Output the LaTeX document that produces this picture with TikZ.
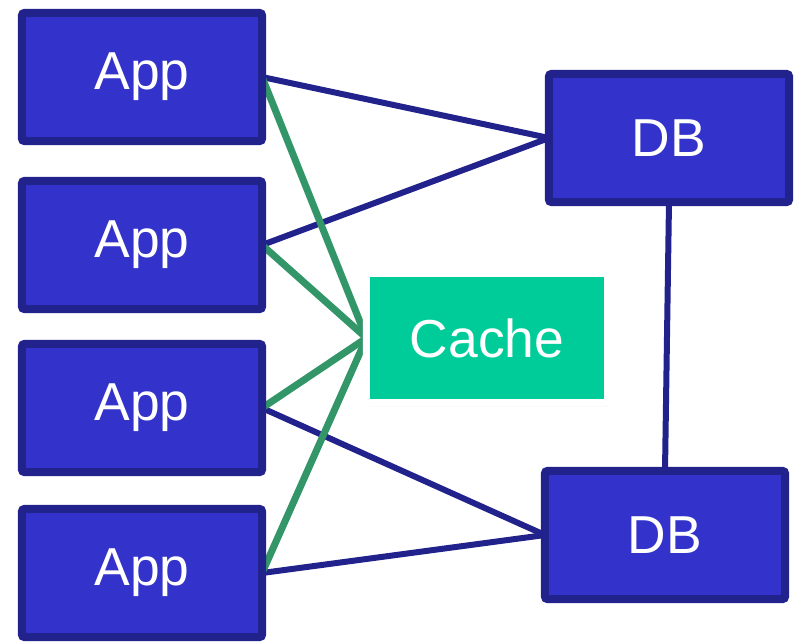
\documentclass[tikz,border=0pt]{standalone}
\usepackage{fontspec}
\setmainfont{Liberation Sans}
\usepackage{tikz}
\usetikzlibrary{shadows,backgrounds}
\definecolor{boxblue}{RGB}{51,51,204}
\definecolor{navy}{RGB}{34,34,140}
\definecolor{mint}{RGB}{0,204,153}
\definecolor{pine}{RGB}{51,150,105}

\begin{document}
\begin{tikzpicture}[x=0.025cm, y=-0.025cm,
  every node/.style={font=\fontsize{38}{40}\selectfont, text=white},
  box/.style={draw=navy, fill=boxblue, line width=0.2cm, rounded corners=0.06cm, minimum width=6cm, minimum height=3.2cm, outer sep=0pt, drop shadow={shadow xshift=0.6pt, shadow yshift=-2.5pt, opacity=0.3}},
  cachebox/.style={draw=white, fill=mint, line width=0.175cm, rounded corners=0.06cm, minimum width=6.025cm, minimum height=3.225cm, outer sep=0pt, drop shadow={shadow xshift=0.8pt, shadow yshift=-2.5pt, opacity=0.3}},
  dblink/.style={navy, line width=0.15cm},
  cachelink/.style={pine, line width=0.175cm}]
\useasboundingbox (0,0) rectangle (796,641);
\node[box] (app1) at (142,77) {App};
\node[box] (app2) at (142,245) {App};
\node[box] (app3) at (142,408) {App};
\node[box] (app4) at (142,573) {App};
\node[box] (db1) at (669,138) {DB};
\node[box] (db2) at (665,535) {DB};
\node[cachebox] (cache) at (487,338) {Cache};
\begin{scope}[on background layer]
\draw[dblink] (app1.east) -- (db1.west);
\draw[dblink] (app2.east) -- (db1.west);
\draw[dblink] (app3.east) -- (db2.west);
\draw[dblink] (app4.east) -- (db2.west);
\draw[dblink] (db1.south) -- (db2.north);
\foreach \i in {1,...,4}
  \draw[cachelink] (app\i.east) -- (cache.west);
\end{scope}
\end{tikzpicture}
\end{document}
